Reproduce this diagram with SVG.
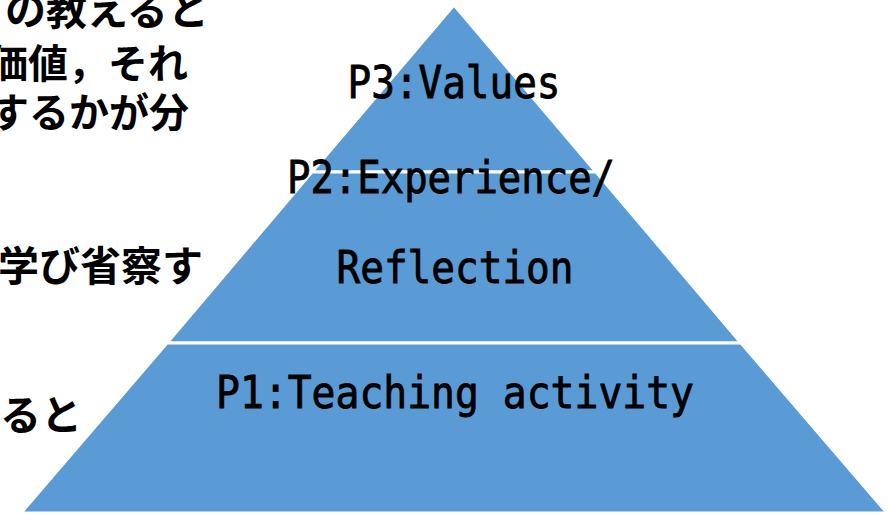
<svg xmlns="http://www.w3.org/2000/svg" width="889" height="515" viewBox="0 0 889 515">
<style>
.seg{fill:#5B9BD5;stroke:#FFFFFF;stroke-width:3;stroke-linejoin:miter}
.lbl{font-family:"DejaVu Sans Mono","Liberation Mono",monospace;font-size:45px;fill:#000000;stroke:#000000;stroke-width:0.9;text-anchor:middle}
.jp{font-family:"Noto Sans CJK JP","Noto Sans CJK SC",sans-serif;font-weight:bold;font-size:40px;fill:#000000}
</style>
<rect width="889" height="515" fill="#FFFFFF"/>
<g id="left-notes">
<text class="jp" x="5" y="25" style="font-size:41px">の教えると</text>
<text class="jp" x="-12" y="78">価値，それ</text>
<text class="jp" x="-11" y="127">するかが分</text>
<text class="jp" x="-2" y="281" style="font-size:41px">学び省察す</text>
<text class="jp" x="0" y="430" style="font-size:41px">ると</text>
</g>
<g id="connectors"></g>
<g id="p3">
<polygon class="seg" points="454,5 596,172 312,172"/>
<text class="lbl" x="454" y="98" textLength="213" lengthAdjust="spacingAndGlyphs">P3:Values</text>
</g>
<g id="p2">
<polygon class="seg" points="312,172 596,172 741,343 167,343"/>
<text class="lbl" x="451" y="193" textLength="328" lengthAdjust="spacingAndGlyphs">P2:Experience/</text>
<text class="lbl" x="455" y="283" textLength="237" lengthAdjust="spacingAndGlyphs">Reflection</text>
</g>
<g id="p1">
<polygon class="seg" points="167,343 741,343 887,513 21,513"/>
<text class="lbl" x="455" y="408" textLength="478" lengthAdjust="spacingAndGlyphs">P1:Teaching activity</text>
</g>
</svg>
